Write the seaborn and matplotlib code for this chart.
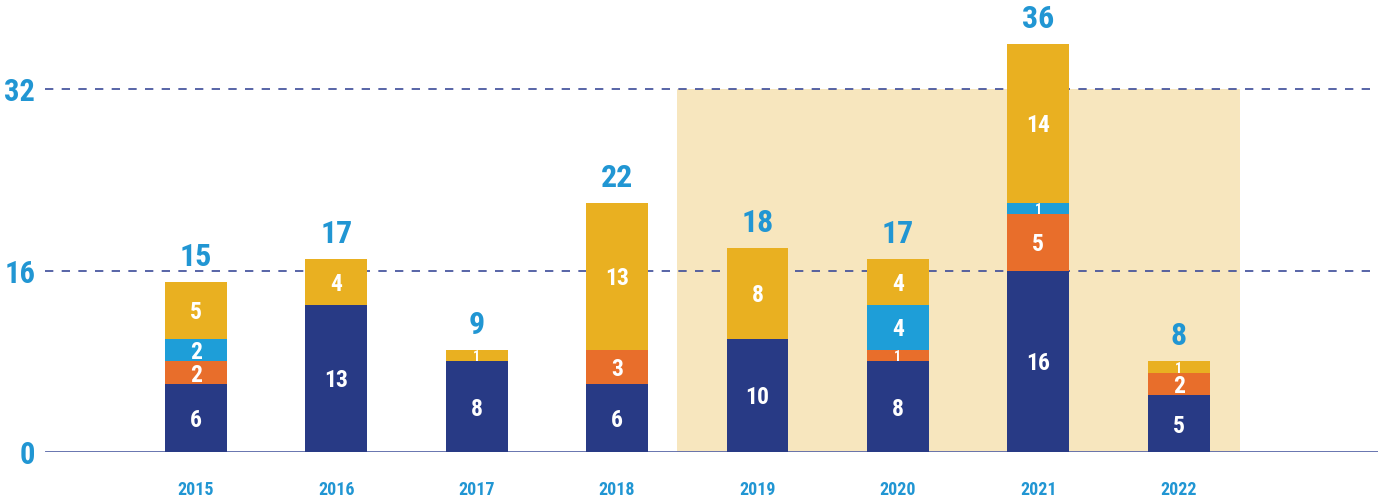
import matplotlib
matplotlib.use("Agg")
import matplotlib.pyplot as plt
import matplotlib.font_manager as fm
import seaborn as sns
import pandas as pd

# Yearly counts per category (stacked bottom to top)
years = ["2015", "2016", "2017", "2018", "2019", "2020", "2021", "2022"]
navy_vals = [6, 13, 8, 6, 10, 8, 16, 5]
orange_vals = [2, 0, 0, 3, 0, 1, 5, 2]
blue_vals = [2, 0, 0, 0, 0, 4, 1, 0]
yellow_vals = [5, 4, 1, 13, 8, 4, 14, 1]
y_ticks = [0, 16, 32]

NAVY = "#283A85"
ORANGE = "#E86E2B"
BLUE = "#1E9ED8"
YELLOW = "#E9B021"
SHADE = "#F7E6BE"
LABEL_BLUE = "#2196D3"
GRID = "#3B4A98"
BASE = "#5A68A8"

sns.set_theme(style="white")

# pick a narrow typeface if one is installed
ttf = fm.fontManager.ttflist
names = {f.name for f in ttf}
FAMILY, STRETCH = "DejaVu Sans", "condensed"
for cand in ["Roboto Condensed", "Liberation Sans Narrow", "Noto Sans Condensed",
             "Open Sans Condensed", "DejaVu Sans Condensed"]:
    if cand in names:
        FAMILY, STRETCH = cand, "normal"
        break
plt.rcParams["font.family"] = [FAMILY, "DejaVu Sans"]
plt.rcParams["font.stretch"] = STRETCH

df = pd.DataFrame({"year": years, "navy": navy_vals, "orange": orange_vals,
                   "blue": blue_vals, "yellow": yellow_vals})
df["c1"] = df["navy"]
df["c2"] = df["c1"] + df["orange"]
df["c3"] = df["c2"] + df["blue"]
df["c4"] = df["c3"] + df["yellow"]

fig = plt.figure(figsize=(13.82, 4.98), dpi=100)
ax = fig.add_axes([45 / 1382, 46 / 498, 1333 / 1382, 452 / 498])

ytop = 39.9
# highlighted period
ax.axvspan(3.426, 7.436, ymin=0, ymax=32 / ytop, color=SHADE, zorder=0, lw=0)

# reference lines
for v in y_ticks[1:]:
    ax.axhline(v, color=GRID, lw=1.2, ls=(0, (5, 5)), zorder=0.5)
ax.axhline(0, color=BASE, lw=2, zorder=0.5)

# stacked bars drawn as overlapping cumulative totals
for col, colr in [("c4", YELLOW), ("c3", BLUE), ("c2", ORANGE), ("c1", NAVY)]:
    sns.barplot(data=df, x="year", y=col, color=colr, width=0.44,
                saturation=1, ax=ax, zorder=2, linewidth=0)

ax.set_xlim(-1.075, 8.42)
ax.set_ylim(0, ytop)

# segment values and totals
for i in range(len(years)):
    bottom = 0
    for vals in (navy_vals, orange_vals, blue_vals, yellow_vals):
        v = vals[i]
        if v > 0:
            fs = 17 if v >= 2 else 10
            ax.text(i, bottom + v / 2, str(v), ha="center", va="center_baseline",
                    color="white", fontsize=fs, fontweight="bold", zorder=3)
        bottom += v
    ax.text(i, bottom + 0.9, str(bottom), ha="center", va="bottom",
            color=LABEL_BLUE, fontsize=23, fontweight="bold", zorder=3)

ax.set_yticks(y_ticks)
ax.set_yticklabels([str(t) for t in y_ticks], color=LABEL_BLUE,
                   fontsize=22, fontweight="bold")
ax.tick_params(axis="y", length=0, pad=7)
ax.tick_params(axis="x", length=0, pad=21, labelsize=13, labelcolor=LABEL_BLUE)
for lab in ax.get_xticklabels():
    lab.set_fontweight("bold")
ax.set_xlabel("")
ax.set_ylabel("")
for s in ax.spines.values():
    s.set_visible(False)
ax.grid(False)

fig.savefig("out.png", dpi=100)
